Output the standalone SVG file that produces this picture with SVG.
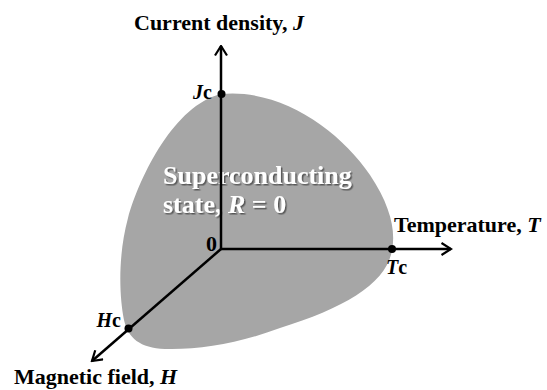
<svg xmlns="http://www.w3.org/2000/svg" width="547" height="390" viewBox="0 0 547 390">
<style>
.lbl{font-family:"Liberation Serif","Times New Roman",serif;font-weight:bold;fill:#000;font-size:22px}
.sm{font-size:20px}
.it{font-style:italic}
.axis{stroke:#000;stroke-width:2.5;fill:none}
.dot{fill:#000}
</style>
<defs>
<marker id="arr" viewBox="0 0 12 14" refX="10.5" refY="7" markerWidth="12" markerHeight="14" markerUnits="userSpaceOnUse" orient="auto">
<path d="M1,1 L10.5,7 L1,13" fill="none" stroke="#000" stroke-width="2.2"/>
</marker>
<filter id="sh" x="-10%" y="-20%" width="120%" height="150%">
<feDropShadow dx="1.5" dy="1.5" stdDeviation="0.7" flood-color="#444" flood-opacity="0.8"/>
</filter>
</defs>
<g id="region">
<path d="M221,94 C280,88 340,130 370,175 C390,205 396,230 392,250 C387,283 345,308 280,328 C240,343 200,350 165,349 C140,348 128,338 124,320 C119,295 118,255 128,218 C140,175 175,105 221,94 Z" fill="#a6a6a6"/>
<g font-family="Liberation Serif, Times New Roman, serif" font-weight="bold" font-size="26" fill="#fff" filter="url(#sh)">
<text x="163" y="184">Superconducting</text>
<text x="163" y="213">state, <tspan font-style="italic">R</tspan> = 0</text>
</g>
</g>
<g id="connectors">
<line class="axis" x1="221" y1="249" x2="221" y2="46" marker-end="url(#arr)"/>
<line class="axis" x1="220" y1="249" x2="451" y2="249" marker-end="url(#arr)"/>
<line class="axis" x1="221" y1="249" x2="92" y2="361" marker-end="url(#arr)"/>
</g>
<g id="axis-J">
<text class="lbl" x="134" y="30">Current density, <tspan class="it">J</tspan></text>
<circle class="dot" cx="221.5" cy="94" r="4"/>
<text class="lbl sm" x="212" y="99" text-anchor="end"><tspan class="it">J</tspan>c</text>
</g>
<g id="axis-T">
<text class="lbl" x="394" y="232">Temperature, <tspan class="it">T</tspan></text>
<circle class="dot" cx="392" cy="249" r="4"/>
<text class="lbl sm" x="386" y="274"><tspan class="it">T</tspan>c</text>
</g>
<g id="axis-H">
<text class="lbl" x="14" y="384">Magnetic field, <tspan class="it">H</tspan></text>
<circle class="dot" cx="128.5" cy="328.5" r="4"/>
<text class="lbl sm" x="121" y="327" text-anchor="end"><tspan class="it">H</tspan>c</text>
</g>
<g id="origin">
<text class="lbl" x="217" y="251" text-anchor="end" font-size="19">0</text>
</g>
</svg>
